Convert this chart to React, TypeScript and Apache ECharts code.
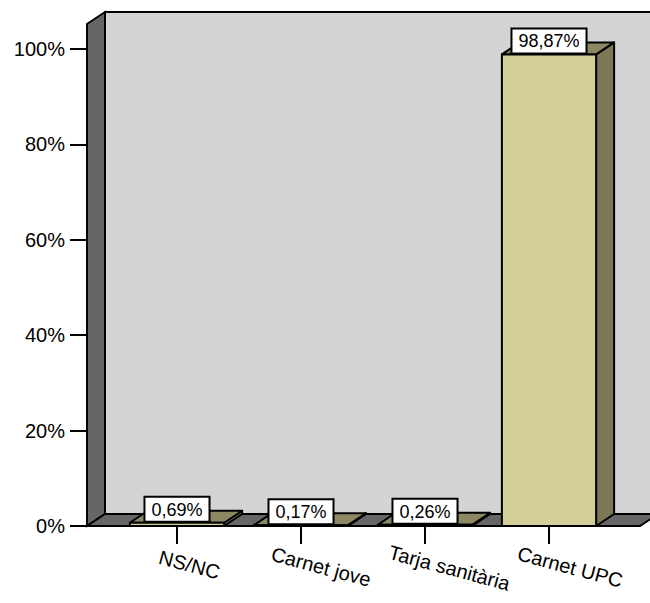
import React, { useEffect, useRef } from "react";
import * as echarts from "echarts";

const categories = ["NS/NC", "Carnet jove", "Tarja sanitària", "Carnet UPC"];
const values = [0.69, 0.17, 0.26, 98.87];
const valueLabels = ["0,69%", "0,17%", "0,26%", "98,87%"];
const yTicks = [0, 20, 40, 60, 80, 100];

const W = 650;
const H = 603;
const GRID_LEFT = 115;
const GRID_RIGHT = 39;
const GRID_TOP = 49;
const GRID_BOTTOM = 77;
const FLOOR_Y = H - GRID_BOTTOM;
const DX = 18;
const DY = -12;
const WALL_X = 87;
const WALL_TOP = 24;
const FLOOR_RIGHT = 640;
const BAR_RATIO = 0.76;

const FONT = "Arial, 'Liberation Sans', sans-serif";
const X_FONT_SIZE = 20;

function textWidth(text: string, size: number): number {
  try {
    const c = document.createElement("canvas").getContext("2d");
    if (c) {
      c.font = `${size}px Arial, 'Liberation Sans', sans-serif`;
      return c.measureText(text).width;
    }
  } catch (e) {}
  return text.length * size * 0.55;
}

export default function App() {
  const ref = useRef<HTMLDivElement>(null);

  useEffect(() => {
    if (!ref.current) return;
    const chart = echarts.init(ref.current, undefined, { renderer: "svg" });

    const rich: any = {};
    categories.forEach((c, i) => {
      const w = textWidth(c, X_FONT_SIZE);
      rich["p" + i] = {
        fontSize: X_FONT_SIZE,
        fontFamily: FONT,
        color: "#000",
        padding: [0, 0, 0, Math.round(0.4 * w + 6)],
      };
    });

    const option: any = {
      animation: false,
      backgroundColor: "#ffffff",
      grid: {
        left: GRID_LEFT,
        right: GRID_RIGHT,
        top: GRID_TOP,
        bottom: GRID_BOTTOM,
      },
      graphic: [
        {
          type: "rect",
          z: 0,
          shape: {
            x: WALL_X + DX,
            y: WALL_TOP + DY,
            width: W - WALL_X,
            height: FLOOR_Y + DY - (WALL_TOP + DY),
          },
          style: { fill: "#d4d4d4", stroke: "#000", lineWidth: 2 },
        },
        {
          type: "polygon",
          z: 0,
          shape: {
            points: [
              [WALL_X, FLOOR_Y],
              [WALL_X, WALL_TOP],
              [WALL_X + DX, WALL_TOP + DY],
              [WALL_X + DX, FLOOR_Y + DY],
            ],
          },
          style: { fill: "#666666", stroke: "#000", lineWidth: 2 },
        },
        {
          type: "polygon",
          z: 0,
          shape: {
            points: [
              [WALL_X, FLOOR_Y],
              [WALL_X + DX, FLOOR_Y + DY],
              [FLOOR_RIGHT + DX, FLOOR_Y + DY],
              [FLOOR_RIGHT, FLOOR_Y],
            ],
          },
          style: { fill: "#666666", stroke: "#000", lineWidth: 2 },
        },
      ],
      xAxis: {
        type: "category",
        data: categories,
        axisLine: { show: false },
        axisTick: {
          show: true,
          alignWithLabel: true,
          length: 18,
          lineStyle: { color: "#000", width: 2 },
        },
        axisLabel: {
          rotate: -15,
          align: "center",
          verticalAlign: "top",
          margin: 25,
          fontSize: X_FONT_SIZE,
          color: "#000",
          fontFamily: FONT,
          formatter: (v: string, i: number) => `{p${i}|${v}}`,
          rich,
        },
        splitLine: { show: false },
      },
      yAxis: {
        type: "value",
        min: 0,
        max: 100,
        interval: 20,
        offset: GRID_LEFT - WALL_X,
        axisLine: { show: false },
        axisTick: {
          show: true,
          length: 17,
          lineStyle: { color: "#000", width: 2 },
        },
        axisLabel: {
          formatter: (v: number) => (yTicks.includes(v) ? v + "%" : ""),
          fontSize: 20,
          color: "#000",
          margin: 22,
          fontFamily: FONT,
        },
        splitLine: { show: false },
      },
      series: [
        {
          type: "custom",
          z: 10,
          data: values.map((v, i) => [i, v]),
          renderItem: (params: any, api: any) => {
            const idx = api.value(0);
            const val = api.value(1);
            const base = api.coord([idx, 0]);
            const top = api.coord([idx, val]);
            const bw = api.size([1, 0])[0] * BAR_RATIO;
            const x0 = base[0] - bw / 2;
            const x1 = base[0] + bw / 2;
            const yT = top[1];
            const yB = base[1];
            const stroke = { stroke: "#000", lineWidth: 2, lineJoin: "round" };
            return {
              type: "group",
              children: [
                {
                  type: "polygon",
                  shape: {
                    points: [
                      [x1, yT],
                      [x1 + DX, yT + DY],
                      [x1 + DX, yB + DY],
                      [x1, yB],
                    ],
                  },
                  style: { fill: "#7b7757", ...stroke },
                },
                {
                  type: "polygon",
                  shape: {
                    points: [
                      [x0, yT],
                      [x0 + DX, yT + DY],
                      [x1 + DX, yT + DY],
                      [x1, yT],
                    ],
                  },
                  style: { fill: "#8c8862", ...stroke },
                },
                {
                  type: "rect",
                  shape: { x: x0, y: yT, width: bw, height: yB - yT },
                  style: { fill: "#d3cf98", ...stroke },
                  textContent: {
                    style: {
                      text: valueLabels[params.dataIndex],
                      fontSize: 18,
                      fontFamily: FONT,
                      fill: "#000",
                      backgroundColor: "#ffffff",
                      borderColor: "#000",
                      borderWidth: 2,
                      padding: [3, 6, 2, 6],
                    },
                    z2: 100,
                  },
                  textConfig: { position: "top", distance: 1 },
                },
              ],
            };
          },
        },
      ],
    };

    chart.setOption(option);
    return () => chart.dispose();
  }, []);

  return (
    <div
      ref={ref}
      style={{ position: "fixed", left: 0, top: 0, width: W, height: H }}
    />
  );
}
